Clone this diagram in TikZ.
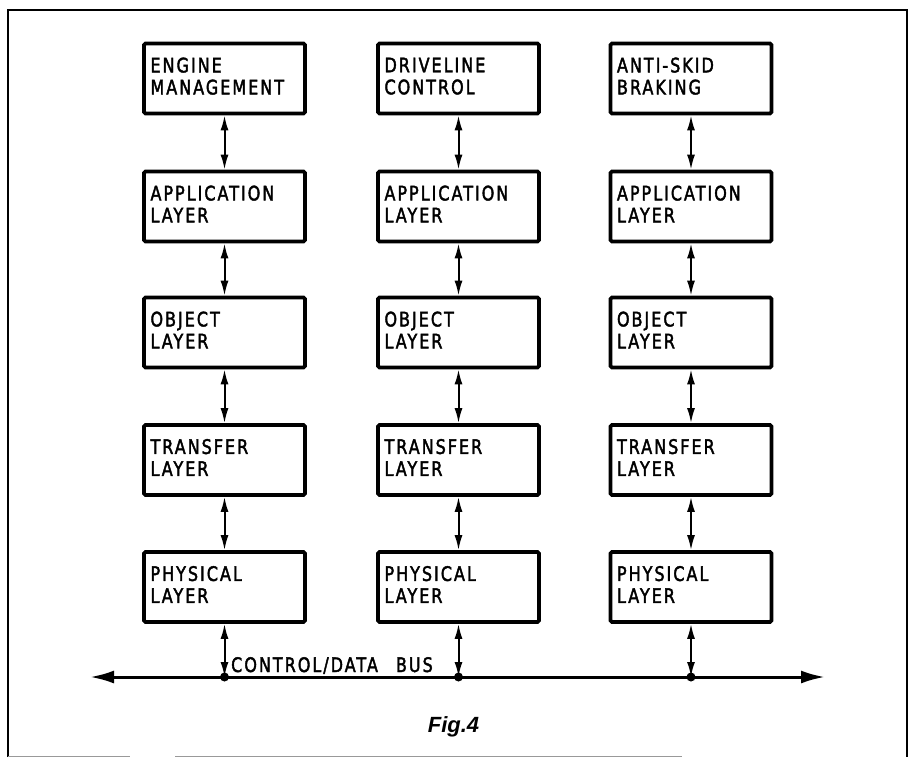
\documentclass[tikz,border=0pt]{standalone}
\usepackage{fontspec}
\usetikzlibrary{arrows.meta}
\newfontfamily\lblfont{DejaVu Sans}[FakeStretch=0.8,LetterSpace=10,FakeBold=2]
\newfontfamily\figfont{Liberation Sans}
\newcommand{\lastline}[1]{#1\rule[-5pt]{0pt}{5pt}}
\begin{document}
\begin{tikzpicture}[x=1pt,y=-1pt,
  layerbox/.style={draw,line width=3.6pt,rounded corners=1.5pt,minimum width=161pt,minimum height=70pt,
    text width=148pt,inner xsep=6.5pt,inner ysep=0pt,align=left,font=\lblfont\fontsize{20}{22}\selectfont},
  dbl/.style={line width=2pt,{Latex[length=15pt,width=8pt]}-{Latex[length=15pt,width=8pt]}},
  busline/.style={line width=3pt,{Latex[length=24pt,width=13pt]}-{Latex[length=24pt,width=13pt]}},
  frameline/.style={line width=2pt},
  lbl/.style={font=\lblfont\fontsize{20}{22}\selectfont,inner sep=0pt}]
\useasboundingbox (0,0) rectangle (911,758);
% frame
\draw[frameline] (8,757) -- (8,10) -- (906.5,10) -- (906.5,757);
\draw[line width=1.6pt,black!40] (8,756.5) -- (130,756.5);
\draw[line width=1.6pt,black!40] (175,756.5) -- (682,756.5);
% column 1
\node[layerbox] (e1) at (224.5,78.5) {ENGINE\\\lastline{MANAGEMENT}};
\node[layerbox] (a1) at (224.5,206.5) {APPLICATION\\\lastline{LAYER}};
\node[layerbox] (o1) at (224.5,332.5) {OBJECT\\\lastline{LAYER}};
\node[layerbox] (t1) at (224.5,460) {TRANSFER\\\lastline{LAYER}};
\node[layerbox] (p1) at (224.5,587) {PHYSICAL\\\lastline{LAYER}};
% column 2
\node[layerbox] (e2) at (458.5,78.5) {DRIVELINE\\\lastline{CONTROL}};
\node[layerbox] (a2) at (458.5,206.5) {APPLICATION\\\lastline{LAYER}};
\node[layerbox] (o2) at (458.5,332.5) {OBJECT\\\lastline{LAYER}};
\node[layerbox] (t2) at (458.5,460) {TRANSFER\\\lastline{LAYER}};
\node[layerbox] (p2) at (458.5,587) {PHYSICAL\\\lastline{LAYER}};
% column 3
\node[layerbox] (e3) at (691,78.5) {ANTI-SKID\\\lastline{BRAKING}};
\node[layerbox] (a3) at (691,206.5) {APPLICATION\\\lastline{LAYER}};
\node[layerbox] (o3) at (691,332.5) {OBJECT\\\lastline{LAYER}};
\node[layerbox] (t3) at (691,460) {TRANSFER\\\lastline{LAYER}};
\node[layerbox] (p3) at (691,587) {PHYSICAL\\\lastline{LAYER}};
% vertical connectors
\foreach \c in {1,2,3}{
  \draw[dbl] (e\c.south) -- (a\c.north);
  \draw[dbl] (a\c.south) -- (o\c.north);
  \draw[dbl] (o\c.south) -- (t\c.north);
  \draw[dbl] (t\c.south) -- (p\c.north);
}
% bus
\coordinate (busL) at (90,677);
\coordinate (busR) at (825,677);
\coordinate (b1) at (p1.south |- busL);
\coordinate (b2) at (p2.south |- busL);
\coordinate (b3) at (p3.south |- busL);
\draw[busline] (busL) -- (busR);
\foreach \c in {1,2,3}{
  \draw[dbl] (p\c.south) -- (b\c);
  \fill (b\c) circle (4.5pt);
}
\node[lbl,anchor=base west] (buslabel) at (231,672) {CONTROL/DATA\hspace{18pt}BUS};
\node[inner sep=0pt,anchor=base,font=\figfont\bfseries\itshape\fontsize{22}{24}\selectfont] (fig) at (453.5,732) {Fig.4};
\end{tikzpicture}
\end{document}
